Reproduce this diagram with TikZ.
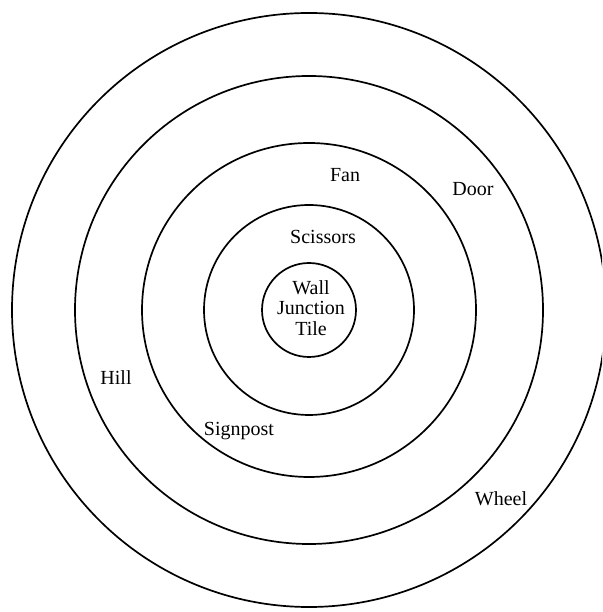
\documentclass[tikz,border=0pt]{standalone}
\usepackage{fontspec}
\setmainfont{Liberation Serif}
\begin{document}
\begin{tikzpicture}[x=1pt,y=1pt,
  ring/.style={draw, line width=1.7pt},
  lbl/.style={font=\fontsize{20}{20.5}\selectfont, inner sep=0pt, align=center}]
\useasboundingbox (0,0) rectangle (602,612);
\clip (0,0) rectangle (602,612);
\coordinate (c) at (309,302);
\draw[ring] (c) circle[radius=297];
\draw[ring] (c) circle[radius=234];
\draw[ring] (c) circle[radius=167];
\draw[ring] (c) circle[radius=105];
\draw[ring] (c) circle[radius=47];
\node[lbl] (core) at (311,304) {Wall\\Junction\\Tile};
\node[lbl] (scissors) at (323,375) {Scissors};
\node[lbl] (fan) at (345,437) {Fan};
\node[lbl] (door) at (473,423) {Door};
\node[lbl] (hill) at (116,234) {Hill};
\node[lbl] (signpost) at (239,181) {Signpost};
\node[lbl] (wheel) at (501,113) {Wheel};
\end{tikzpicture}
\end{document}
